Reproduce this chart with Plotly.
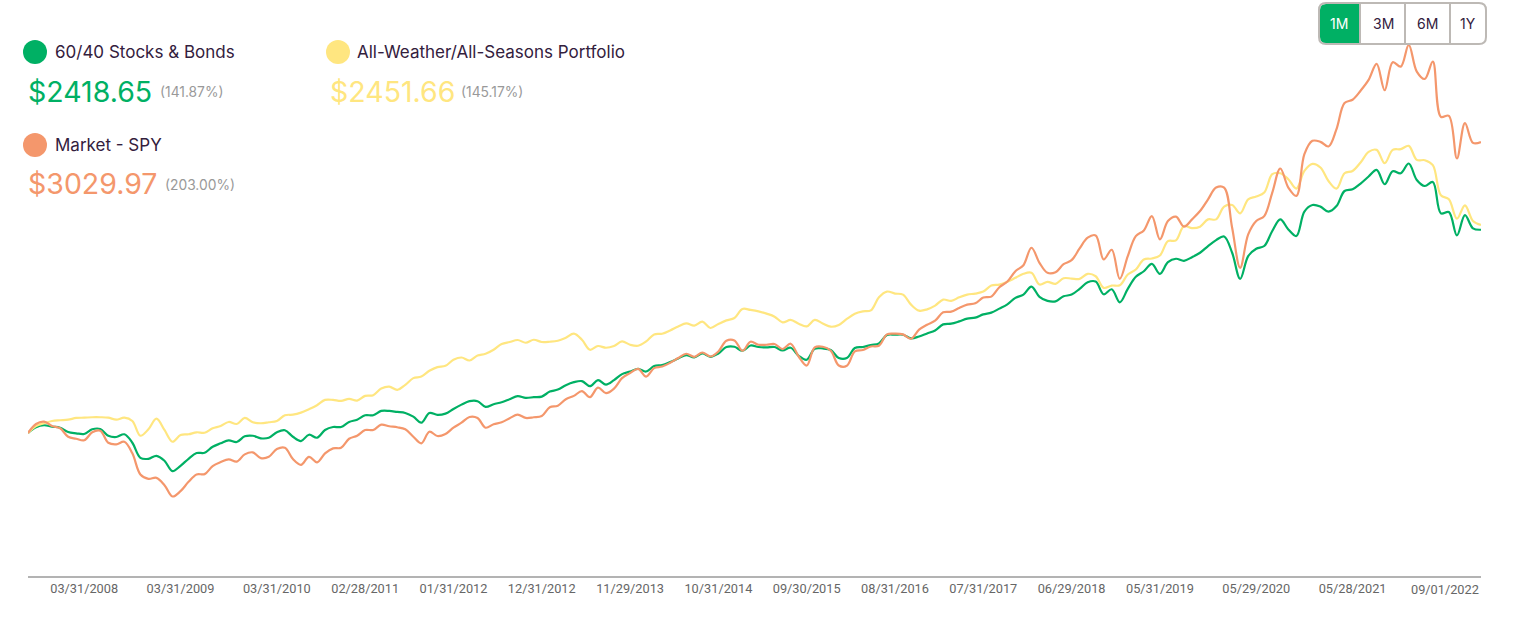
import pandas as pd
import plotly.graph_objects as go

# Params
width, height = 1514, 622
left, right, bottom = 28, 1481, 576     # plot area edges in page pixels
green, yellow, orange = "#00b064", "#ffe680", "#f4976c"
ink, grey = "#33203d", "#999999"
font = "Inter"

# Month end dates, last point is the run date
dates = pd.date_range("2007-08-31", periods=181, freq="BME").strftime("%m/%d/%Y").tolist() + ["09/01/2022"]
dates[dates.index("05/31/2021")] = "05/28/2021"     # market holiday
tick_dates = ["03/31/2008", "03/31/2009", "03/31/2010", "02/28/2011", "01/31/2012", "12/31/2012",
              "11/29/2013", "10/31/2014", "09/30/2015", "08/31/2016", "07/31/2017", "06/29/2018",
              "05/31/2019", "05/29/2020", "05/28/2021"]

# Portfolio value in dollars
stocks_bonds = [1000, 1040, 1054, 1044, 1037, 1007, 998, 993, 1026, 1028,
                981, 972, 991, 932, 827, 820, 841, 806, 734, 771,
                820, 860, 862, 904, 928, 949, 937, 977, 981, 963,
                967, 1005, 1019, 974, 944, 988, 967, 1021, 1042, 1042,
                1077, 1093, 1124, 1124, 1154, 1154, 1147, 1140, 1114, 1072,
                1140, 1126, 1135, 1168, 1198, 1222, 1222, 1182, 1201, 1215,
                1236, 1257, 1245, 1250, 1254, 1289, 1303, 1334, 1355, 1362,
                1327, 1369, 1338, 1369, 1411, 1429, 1448, 1429, 1467, 1474,
                1495, 1520, 1544, 1527, 1555, 1532, 1555, 1600, 1602, 1574,
                1611, 1600, 1597, 1600, 1576, 1595, 1539, 1511, 1588, 1590,
                1579, 1523, 1523, 1593, 1600, 1614, 1625, 1684, 1686, 1686,
                1660, 1674, 1695, 1716, 1758, 1763, 1779, 1798, 1805, 1828,
                1840, 1868, 1898, 1943, 1966, 2022, 1950, 1922, 1919, 1954,
                1966, 2006, 2052, 2057, 1968, 2003, 1912, 2006, 2090, 2129,
                2181, 2111, 2192, 2216, 2202, 2227, 2258, 2305, 2346, 2372,
                2258, 2076, 2235, 2286, 2305, 2410, 2491, 2421, 2375, 2545,
                2591, 2580, 2545, 2584, 2689, 2701, 2741, 2790, 2836, 2736,
                2827, 2813, 2881, 2766, 2724, 2752, 2533, 2542, 2379, 2521,
                2428, 2418.65]
all_weather = [1000, 1049, 1068, 1084, 1089, 1093, 1105, 1107, 1110, 1110,
               1107, 1093, 1107, 1084, 981, 1026, 1100, 1021, 939, 986,
               991, 1005, 1002, 1033, 1049, 1077, 1063, 1105, 1075, 1068,
               1075, 1084, 1124, 1128, 1142, 1166, 1194, 1231, 1231, 1224,
               1238, 1226, 1259, 1264, 1310, 1324, 1301, 1336, 1383, 1394,
               1434, 1460, 1469, 1511, 1527, 1506, 1541, 1553, 1581, 1621,
               1635, 1649, 1630, 1651, 1635, 1637, 1644, 1665, 1693, 1651,
               1581, 1607, 1595, 1607, 1639, 1616, 1609, 1639, 1688, 1693,
               1716, 1744, 1765, 1749, 1777, 1733, 1761, 1786, 1803, 1866,
               1859, 1849, 1833, 1812, 1772, 1789, 1763, 1744, 1789, 1765,
               1742, 1754, 1796, 1833, 1849, 1856, 1947, 1987, 1973, 1966,
               1896, 1854, 1863, 1889, 1931, 1922, 1947, 1966, 1973, 1987,
               2029, 2036, 2055, 2083, 2111, 2118, 2036, 2055, 2041, 2080,
               2078, 2076, 2111, 2094, 2013, 2029, 2031, 2106, 2141, 2211,
               2218, 2239, 2339, 2344, 2444, 2430, 2440, 2491, 2491, 2580,
               2591, 2533, 2631, 2650, 2678, 2806, 2813, 2771, 2706, 2829,
               2878, 2853, 2759, 2706, 2813, 2829, 2888, 2962, 2976, 2883,
               2976, 2981, 3004, 2906, 2904, 2869, 2659, 2631, 2496, 2589,
               2480, 2451.66]
market_spy = [1000, 1063, 1079, 1049, 1033, 974, 960, 949, 1005, 1016,
              932, 921, 939, 858, 711, 680, 687, 636, 557, 594,
              659, 711, 713, 769, 797, 816, 800, 851, 865, 825,
              834, 888, 897, 818, 778, 834, 795, 858, 893, 897,
              960, 981, 1021, 1021, 1058, 1047, 1040, 1026, 974, 928,
              1009, 979, 993, 1037, 1072, 1112, 1105, 1037, 1061, 1075,
              1103, 1128, 1105, 1110, 1119, 1180, 1191, 1236, 1259, 1292,
              1250, 1317, 1278, 1310, 1383, 1418, 1448, 1394, 1453, 1464,
              1490, 1523, 1553, 1532, 1562, 1534, 1569, 1644, 1646, 1574,
              1637, 1616, 1616, 1621, 1586, 1623, 1534, 1471, 1597, 1602,
              1574, 1471, 1469, 1569, 1579, 1604, 1609, 1688, 1693, 1688,
              1658, 1721, 1756, 1784, 1842, 1847, 1873, 1896, 1905, 1945,
              1952, 2017, 2057, 2129, 2171, 2293, 2188, 2118, 2122, 2178,
              2206, 2288, 2363, 2379, 2211, 2279, 2076, 2234, 2374, 2414,
              2514, 2351, 2479, 2510, 2440, 2491, 2549, 2631, 2713, 2713,
              2433, 2153, 2386, 2480, 2514, 2678, 2846, 2713, 2655, 2946,
              3039, 3032, 3000, 3121, 3303, 3326, 3389, 3464, 3576, 3392,
              3588, 3557, 3709, 3522, 3471, 3592, 3207, 3214, 2916, 3163,
              3025, 3029.97]

names = ["60/40 Stocks & Bonds", "All-Weather/All-Seasons Portfolio", "Market - SPY"]
values = ["$2418.65", "$2451.66", "$3029.97"]
gains = ["(141.87%)", "(145.17%)", "(203.00%)"]
buttons = ["1M", "3M", "6M", "1Y"]

fig = go.Figure()
for name, series, color in zip(names, [stocks_bonds, all_weather, market_spy], [green, yellow, orange]):
    fig.add_trace(go.Scatter(x=dates, y=series, name=name, mode="lines",
                             line=dict(color=color, width=2.2, shape="spline", smoothing=1)))


# Header and buttons sit in page pixels, so convert to paper coords
def px(x):
    return (x - left) / (right - left)


def py(y):
    return (bottom - y) / bottom


def label(x, y, text, color, size, anchor="left"):
    fig.add_annotation(xref="paper", yref="paper", x=px(x), y=py(y), text=text, showarrow=False,
                       xanchor=anchor, yanchor="middle", borderpad=0, borderwidth=0,
                       font=dict(family=font, color=color, size=size))


def dot(x, y, color, r=12):
    fig.add_shape(type="circle", xref="paper", yref="paper", x0=px(x - r), x1=px(x + r),
                  y0=py(y + r), y1=py(y - r), fillcolor=color, line_width=0)


# Legend blocks
dot(35, 52, green)
label(55, 52, names[0], ink, 17)
label(28, 91, values[0], green, 28.5)
label(160, 92, gains[0], grey, 13.8)

dot(338, 52, yellow)
label(357, 52, names[1], ink, 17)
label(330, 91, values[1], yellow, 28.5)
label(461, 92, gains[1], grey, 13.8)

dot(35, 145, orange)
label(55, 145, names[2], ink, 17)
label(28, 183, values[2], orange, 28.5)
label(165, 185, gains[2], grey, 13.8)


# Range buttons, rounded box with the first cell filled
def rounded(x0, x1, y0, y1, r_left, r_right):
    return (f"M {px(x0 + r_left)} {py(y0)} L {px(x1 - r_right)} {py(y0)} "
            f"Q {px(x1)} {py(y0)} {px(x1)} {py(y0 + r_right)} L {px(x1)} {py(y1 - r_right)} "
            f"Q {px(x1)} {py(y1)} {px(x1 - r_right)} {py(y1)} L {px(x0 + r_left)} {py(y1)} "
            f"Q {px(x0)} {py(y1)} {px(x0)} {py(y1 - r_left)} L {px(x0)} {py(y0 + r_left)} "
            f"Q {px(x0)} {py(y0)} {px(x0 + r_left)} {py(y0)} Z")


fig.add_shape(type="path", xref="paper", yref="paper", path=rounded(1320, 1360, 4, 43, 6, 0),
              fillcolor=green, line_width=0)
fig.add_shape(type="path", xref="paper", yref="paper", path=rounded(1319, 1486, 3, 44, 7, 7),
              line=dict(color="#bdb9b5", width=2))
for div_x in [1360, 1405, 1450]:
    fig.add_shape(type="line", xref="paper", yref="paper", x0=px(div_x), x1=px(div_x), y0=py(3), y1=py(44),
                  line=dict(color="#bdb9b5", width=2))
for text, x, color in zip(buttons, [1339, 1383, 1427, 1468], ["white", ink, ink, ink]):
    label(x, 24, text, color, 14, anchor="center")

# Last date label is pulled inside the plot edge
fig.add_annotation(x=dates[-1], y=0, xref="x", yref="paper", xshift=-2, yshift=-13, text=dates[-1], showarrow=False,
                   xanchor="right", yanchor="middle", borderpad=0, borderwidth=0,
                   font=dict(family="Roboto", color="#666666", size=12.75))

fig.update_layout(width=width, height=height, showlegend=False, plot_bgcolor="white", paper_bgcolor="white",
                  margin=dict(l=left, r=width - right, t=0, b=height - bottom))
fig.update_xaxes(type="category", range=[0, len(dates) - 1], tickmode="array", tickvals=tick_dates,
                 ticktext=tick_dates, showgrid=False, zeroline=False, showline=True, linecolor="#b3b3b3",
                 linewidth=2, ticks="", tickfont=dict(family="Roboto", color="#666666", size=12.75))
fig.update_yaxes(range=[2, 4022], visible=False, showgrid=False)

fig.write_html("out.html", config=dict(displayModeBar=False),
               post_script="document.body.style.margin='0';document.body.style.overflow='hidden';")
